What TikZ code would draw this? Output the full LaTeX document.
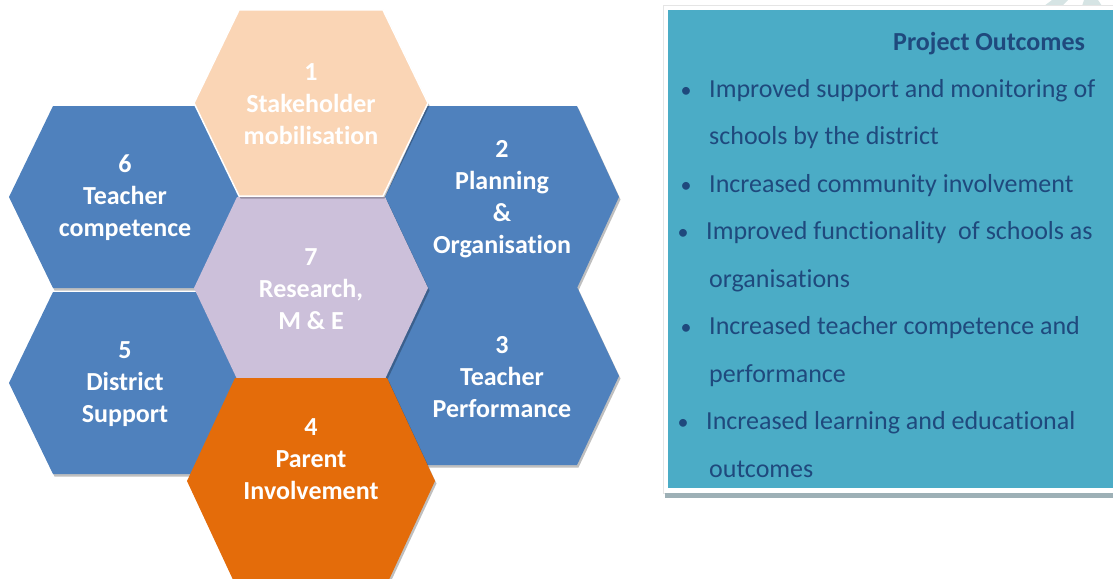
\documentclass[tikz,border=0pt]{standalone}
\usepackage{fontspec}
\setmainfont{Carlito}[Ligatures=NoCommon]
\usetikzlibrary{shadows}
\definecolor{peach}{HTML}{FAD5B5}
\definecolor{hexblue}{HTML}{4F81BD}
\definecolor{lav}{HTML}{CCC0DA}
\definecolor{orng}{HTML}{E46C0A}
\definecolor{panelc}{HTML}{4BACC6}
\definecolor{ptext}{HTML}{1F497D}
\definecolor{pshadow}{HTML}{9DB0B6}
\definecolor{faint}{HTML}{D6E4E4}
\newcommand\hexat[5]{(#1-#3,#2) -- (#1-#4,#2-#5) -- (#1+#4,#2-#5) -- (#1+#3,#2) -- (#1+#4,#2+#5) -- (#1-#4,#2+#5) -- cycle}
\tikzset{
  hexshade/.style={drop shadow={shadow xshift=1.5pt, shadow yshift=-2.5pt, opacity=0.25, fill=black}},
  hextext/.style={text=white, font=\bfseries\fontsize{26}{32}\selectfont, align=center, inner sep=0pt},
  ptxt/.style={text=ptext, font=\fontsize{26}{32}\selectfont, anchor=base west, inner sep=0pt},
  ptitle/.style={text=ptext, font=\bfseries\fontsize{26}{32}\selectfont, anchor=base west, inner sep=0pt},
  pbul/.style={text=ptext, font=\fontsize{22}{32}\selectfont, anchor=base, inner sep=0pt}
}
\begin{document}
\begin{tikzpicture}[x=1pt,y=-1pt]
\useasboundingbox (0,0) rectangle (1113,578);
\clip (0,0) rectangle (1113,578);
% faint background decoration at top right
\fill[faint] (1044,6) -- (1052,0) -- (1068,0) -- (1062,6) -- cycle;
\fill[faint] (1082,6) -- (1084,0) -- (1098,0) -- (1102,6) -- cycle;
% hexagons
\fill[hexblue, hexshade] \hexat{125}{197}{116}{72}{91};
\fill[hexblue, hexshade] \hexat{125}{383}{116}{72}{91};
\fill[hexblue, hexshade] \hexat{502}{197}{117}{75}{91};
\fill[hexblue, hexshade] \hexat{502}{376}{117}{75}{89};
\fill[lav, hexshade] \hexat{311}{288}{117}{74}{91};
\filldraw[fill=peach, draw=white, line width=1.5pt, hexshade] \hexat{311}{103}{117}{72}{93};
\fill[orng, hexshade] \hexat{311}{481}{124}{76}{103};
% hexagon labels
\node[hextext] (h1) at (311,104) {1\\Stakeholder\\mobilisation};
\node[hextext] (h2) at (502,199) {2\\Planning\\\&\\Organisation};
\node[hextext] (h3) at (502,377) {3\\Teacher\\Performance};
\node[hextext] (h4) at (311,459) {4\\Parent\\Involvement};
\node[hextext] (h5) at (125,384) {5\\District\\Support};
\node[hextext] (h6) at (125,198) {6\\Teacher\\competence};
\node[hextext] (h7) at (311,289) {7\\Research,\\M \& E};
% outcomes panel
\fill[white] (663,5) rectangle (1113,493);
\draw[black!10, line width=0.8pt] (663,5) rectangle (1114,493);
\fill[pshadow] (665,493) rectangle (1113,498);
\fill[panelc] (668,10) rectangle (1113,488);
\node[ptitle] (title) at (893,51) {Project Outcomes};
\node[pbul] (b1) at (686,97) {\textbullet};
\node[ptxt] (l1) at (709,97) {Improved support and monitoring of};
\node[ptxt] (l2) at (709,144.5) {schools by the district};
\node[pbul] (b2) at (686,192) {\textbullet};
\node[ptxt] (l3) at (709,192) {Increased community involvement};
\node[pbul] (b3) at (683,239.5) {\textbullet};
\node[ptxt] (l4) at (706,239.5) {Improved functionality~ of schools as};
\node[ptxt] (l5) at (709,287) {organisations};
\node[pbul] (b4) at (686,334.5) {\textbullet};
\node[ptxt] (l6) at (709,334.5) {Increased teacher competence and};
\node[ptxt] (l7) at (709,382) {performance};
\node[pbul] (b5) at (683,429.5) {\textbullet};
\node[ptxt] (l8) at (706,429.5) {Increased learning and educational};
\node[ptxt] (l9) at (709,477) {outcomes};
\end{tikzpicture}
\end{document}
